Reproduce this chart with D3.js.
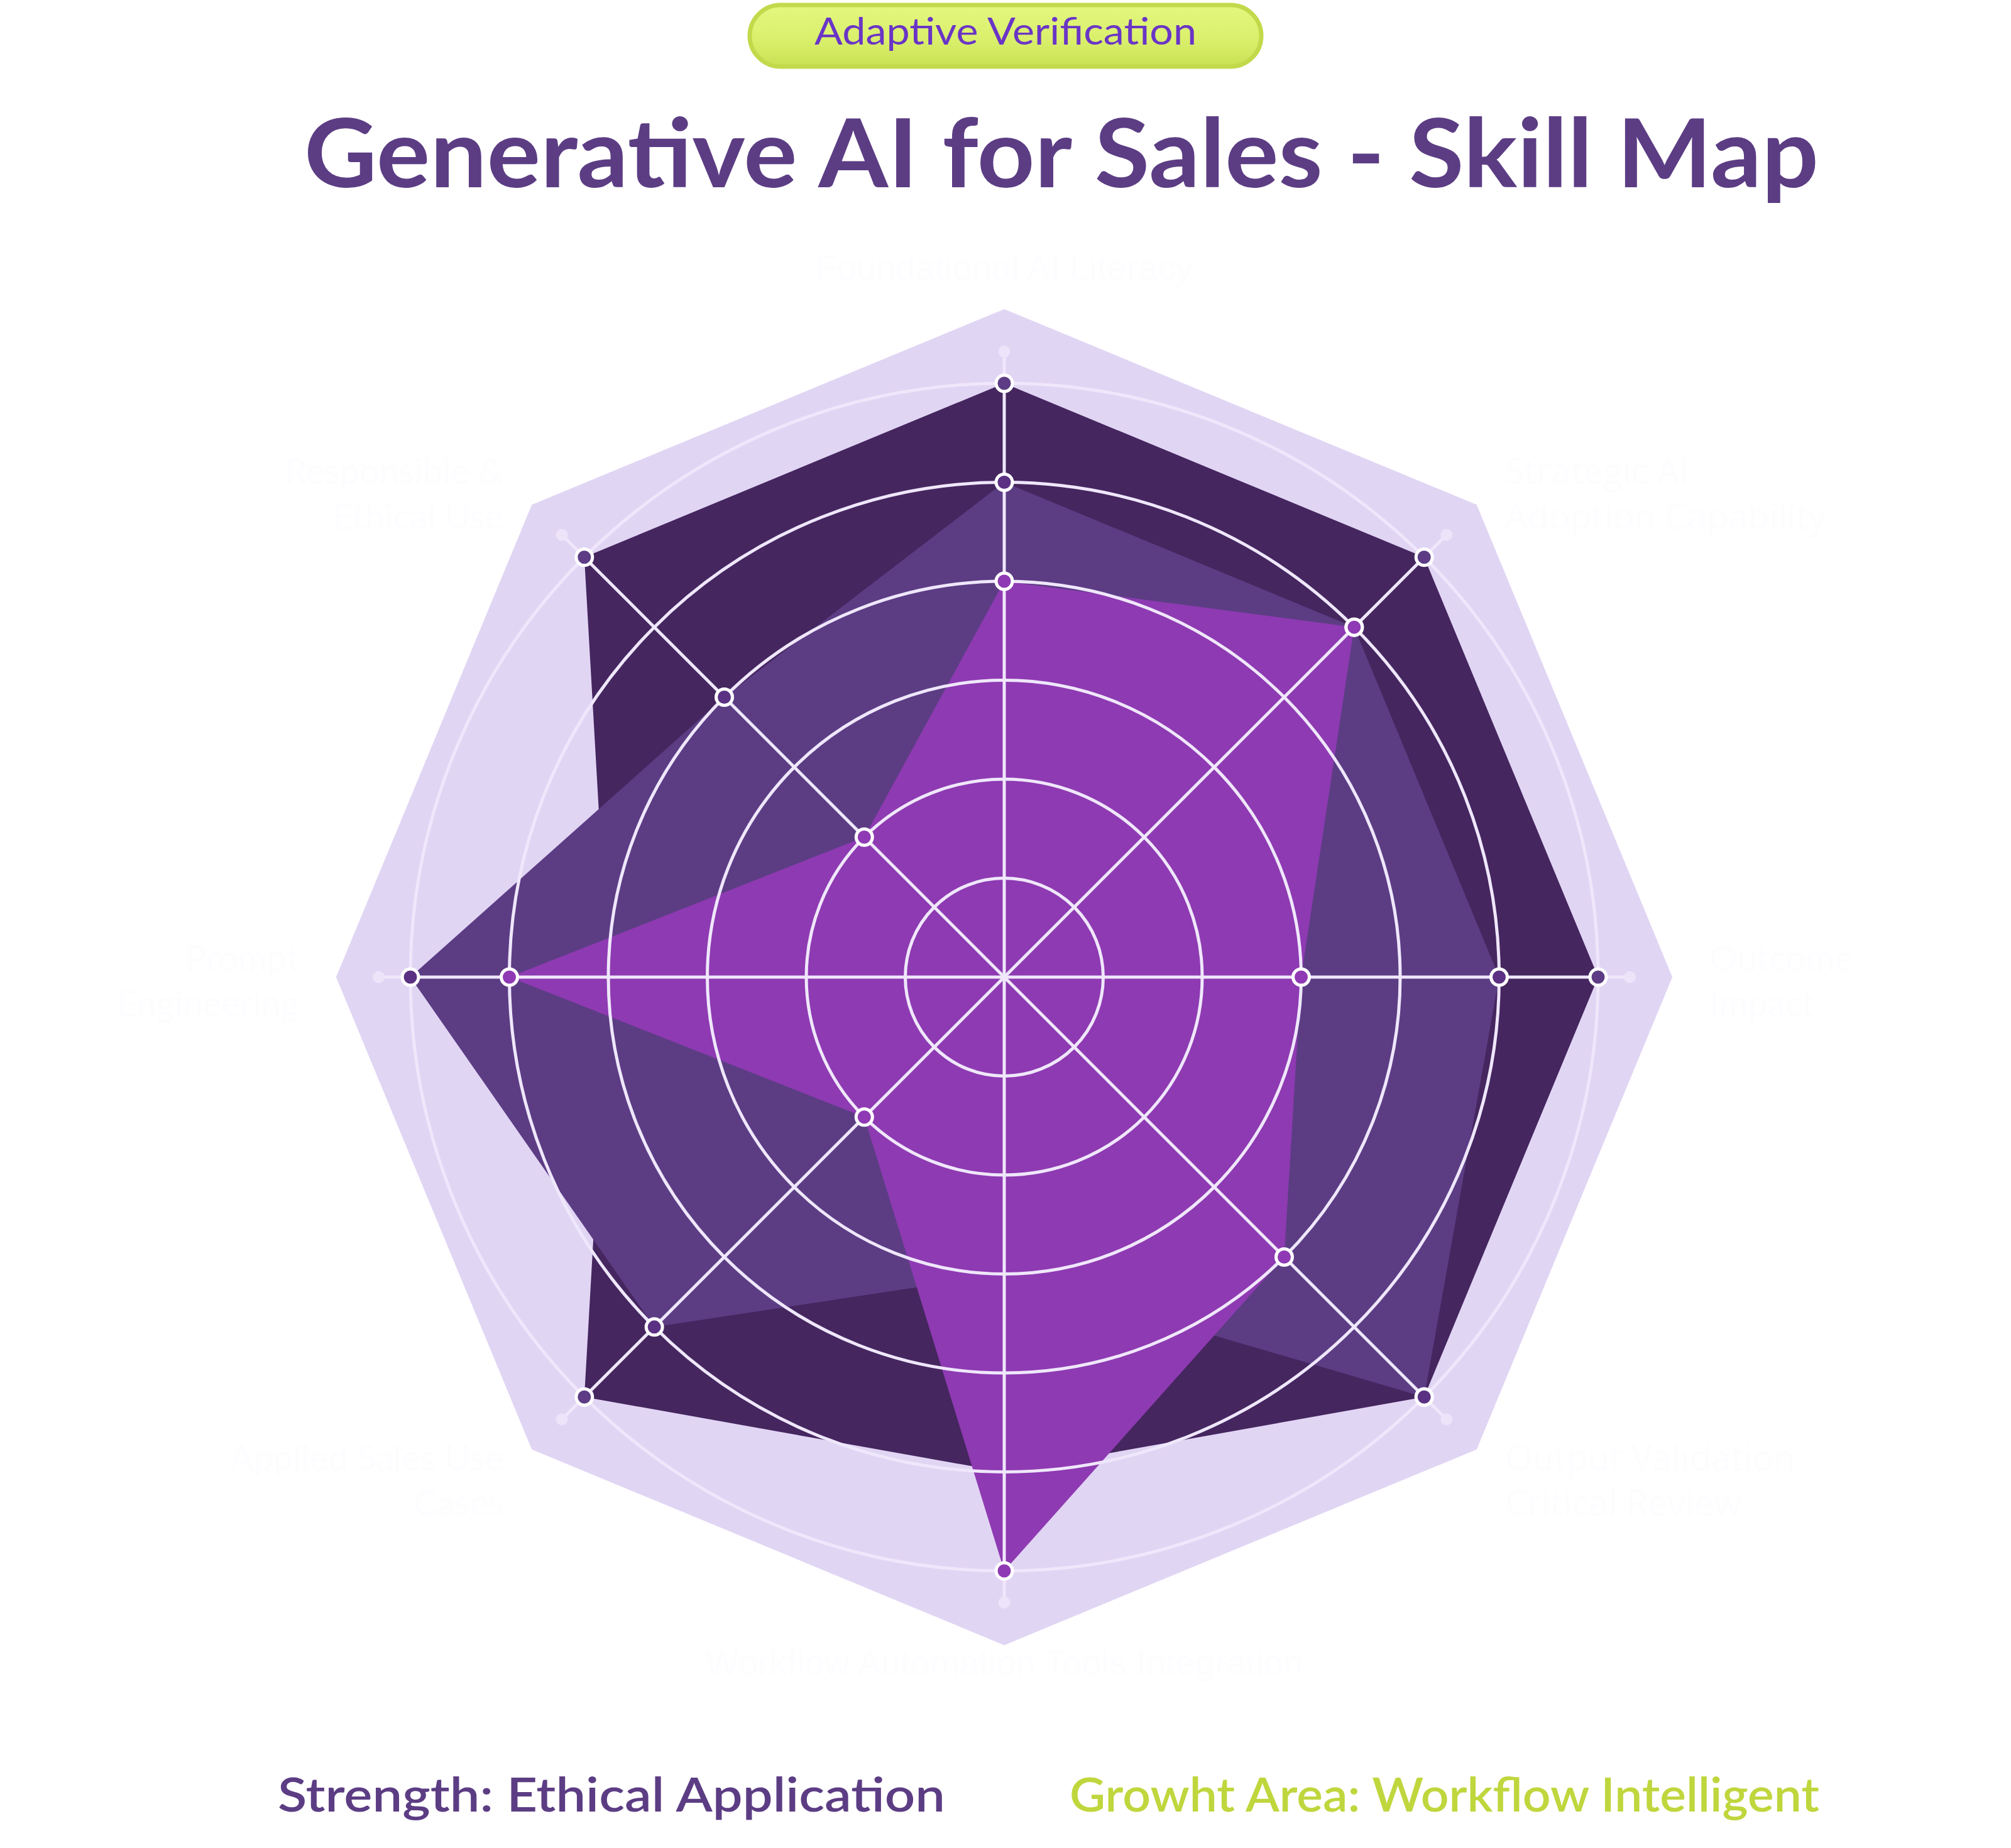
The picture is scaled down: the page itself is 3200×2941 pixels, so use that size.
<!DOCTYPE html>
<html>
<head>
<meta charset="utf-8">
<script src="https://cdn.jsdelivr.net/npm/d3@7"></script>
<style>
  body { margin: 0; background: #ffffff; }
  svg { display: block; }
</style>
</head>
<body>
<div id="chart"></div>
<script>
// axes clockwise from the top
const axes = [
  ["Foundational AI Literacy"],
  ["Strategic AI", "Adoption Capability"],
  ["Outcome", "Impact"],
  ["Output Validation", "Critical Review"],
  ["Workflow Automation Tools Integration"],
  ["Applied Sales Use", "Cases"],
  ["Prompt", "Engineering"],
  ["Responsible &", "Ethical Use"]
];
const labelFonts = ["Liberation Sans Narrow, Liberation Sans, sans-serif", "Open Sans, sans-serif",
  "Lato, sans-serif", "Open Sans, sans-serif", "Liberation Sans Narrow, Liberation Sans, sans-serif",
  "Lato, sans-serif", "Lato, sans-serif", "Lato, sans-serif"];

const seriesNames = ["Target", "Current", "Baseline"];
const targetValues = [6, 6, 6, 6, 5, 6, 4, 6];
const currentValues = [5, 5, 5, 6, 3, 5, 6, 4];
const baselineValues = [4, 5, 3, 4, 6, 2, 5, 2];
const seriesColors = ["#45265f", "#5c3d84", "#8e3ab2"];
const markerColors = ["#5d3c85", "#5b3183", "#8f3ab4"];

const levels = [1, 2, 3, 4, 5, 6];
const maxValue = 6;

const width = 3200, height = 2941;
const cx = 1598, cy = 1555;
const radius = 945;

const svg = d3.select("#chart").append("svg")
  .attr("width", width)
  .attr("height", height);

const r = d3.scaleLinear().domain([0, maxValue]).range([0, radius]);
const n = axes.length;
const angle = i => i * 2 * Math.PI / n;

const g = svg.append("g").attr("transform", `translate(${cx},${cy})`);

const radar = d3.lineRadial()
  .angle((d, i) => angle(i))
  .radius(d => r(d))
  .curve(d3.curveLinearClosed);

// background octagon
g.append("path")
  .attr("d", radar(axes.map(() => 6.75)))
  .attr("fill", "#e1d5f4");

// series areas
const series = [targetValues, currentValues, baselineValues];
series.forEach((vals, s) => {
  g.append("path")
    .attr("class", "series-" + seriesNames[s])
    .attr("d", radar(vals))
    .attr("fill", seriesColors[s]);
});

// grid rings and axis spokes sit above the areas
const grid = g.append("g");
grid.selectAll("circle.ring")
  .data(levels)
  .enter().append("circle")
  .attr("class", "ring")
  .attr("r", d => r(d))
  .attr("fill", "none")
  .attr("stroke", "#efe7fb")
  .attr("stroke-width", 5);

const axisEnd = r(6.32);
grid.selectAll("line.spoke")
  .data(axes)
  .enter().append("line")
  .attr("x1", 0).attr("y1", 0)
  .attr("x2", (d, i) => axisEnd * Math.sin(angle(i)))
  .attr("y2", (d, i) => -axisEnd * Math.cos(angle(i)))
  .attr("stroke", "#efe7fb")
  .attr("stroke-width", 5);
grid.selectAll("circle.cap")
  .data(axes)
  .enter().append("circle")
  .attr("cx", (d, i) => axisEnd * Math.sin(angle(i)))
  .attr("cy", (d, i) => -axisEnd * Math.cos(angle(i)))
  .attr("r", 9.5)
  .attr("fill", "#ede4fa");

// markers; a marker is hidden when a later series covers it on that axis
const markerLayer = g.append("g");
series.forEach((vals, s) => {
  const shown = vals.map((d, i) => ({ i, d }))
    .filter(p => !series.slice(s + 1).some(other => other[p.i] > p.d));
  markerLayer.append("g").selectAll("circle")
    .data(shown)
    .enter().append("circle")
    .attr("cx", p => r(p.d) * Math.sin(angle(p.i)))
    .attr("cy", p => -r(p.d) * Math.cos(angle(p.i)))
    .attr("r", 13)
    .attr("fill", markerColors[s])
    .attr("stroke", "#ffffff")
    .attr("stroke-width", 5);
});

// axis labels (nearly white)
const labelR = 1110;
const lineGap = 72;
g.append("g").selectAll("text")
  .data(axes)
  .enter().append("text")
  .each(function(lines, i) {
    const a = angle(i);
    const x = labelR * Math.sin(a);
    const y = -labelR * Math.cos(a);
    const sx = Math.sin(a);
    const anchor = Math.abs(sx) < 0.01 ? "middle" : (sx > 0 ? "start" : "end");
    const pad = Math.abs(sx) < 0.01 ? 0 : (sx > 0 ? 12 : -12);
    const t = d3.select(this)
      .attr("text-anchor", anchor)
      .attr("font-family", labelFonts[i])
      .attr("font-size", 56)
      .attr("fill", "#fdfcff");
    lines.forEach((ln, k) => {
      t.append("tspan")
        .attr("x", x + pad)
        .attr("y", y + k * lineGap - (Math.abs(Math.cos(a)) < 0.01 ? 10 : 0))
        .text(ln);
    });
  });

// title
svg.append("text")
  .attr("x", 1689)
  .attr("y", 298)
  .attr("text-anchor", "middle")
  .attr("font-family", "Lato, sans-serif")
  .attr("font-weight", 700)
  .attr("font-size", 152)
  .attr("fill", "#5c3d84")
  .attr("textLength", 2410)
  .attr("lengthAdjust", "spacingAndGlyphs")
  .text("Generative AI for Sales - Skill Map");

// badge
const defs = svg.append("defs");
const grad = defs.append("linearGradient")
  .attr("id", "badgeGrad")
  .attr("x1", 0).attr("y1", 0).attr("x2", 0).attr("y2", 1);
grad.append("stop").attr("offset", "0%").attr("stop-color", "#e3f77f");
grad.append("stop").attr("offset", "55%").attr("stop-color", "#daf06c");
grad.append("stop").attr("offset", "100%").attr("stop-color", "#c9e154");

svg.append("rect")
  .attr("x", 1193).attr("y", 8)
  .attr("width", 814).attr("height", 98)
  .attr("rx", 49).attr("ry", 49)
  .attr("fill", "url(#badgeGrad)")
  .attr("stroke", "#c3d94b")
  .attr("stroke-width", 7);
svg.append("text")
  .attr("x", 1600)
  .attr("y", 71)
  .attr("text-anchor", "middle")
  .attr("font-family", "Lato, sans-serif")
  .attr("font-size", 60)
  .attr("fill", "#6a35c6")
  .attr("textLength", 608)
  .attr("lengthAdjust", "spacingAndGlyphs")
  .text("Adaptive Verification");

// footer notes
svg.append("text")
  .attr("x", 442)
  .attr("y", 2883)
  .attr("font-family", "Lato, sans-serif")
  .attr("font-weight", 600)
  .attr("font-size", 75)
  .attr("fill", "#5c3d84")
  .attr("textLength", 1062)
  .attr("lengthAdjust", "spacingAndGlyphs")
  .text("Strength: Ethical Application");
svg.append("text")
  .attr("x", 1702)
  .attr("y", 2883)
  .attr("font-family", "Lato, sans-serif")
  .attr("font-weight", 600)
  .attr("font-size", 75)
  .attr("fill", "#c0d63d")
  .attr("textLength", 1193)
  .attr("lengthAdjust", "spacingAndGlyphs")
  .text("Growht Area: Workflow Intelligent");
</script>
</body>
</html>
